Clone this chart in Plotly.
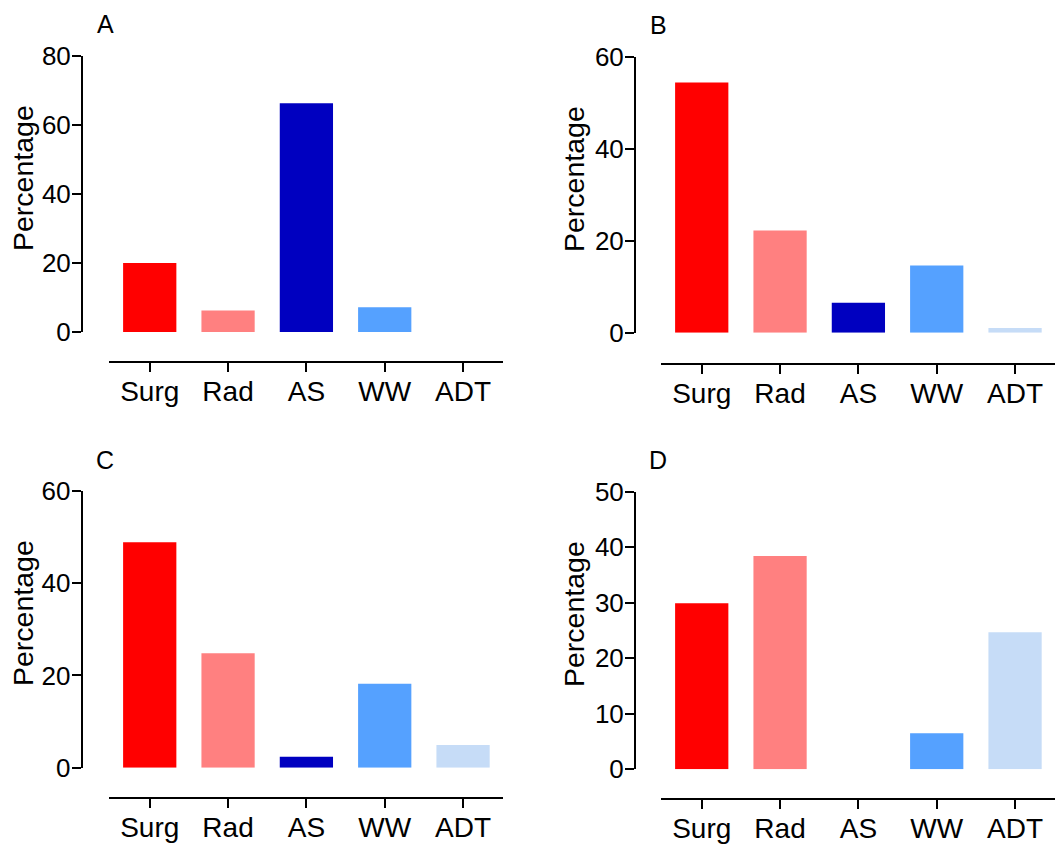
import plotly.graph_objects as go

categories = ["Surg", "Rad", "AS", "WW", "ADT"]
colors = ["#FF0000", "#FF8080", "#0000C0", "#55A1FF", "#C6DCF7"]

panel_a = [20.0, 6.2, 66.3, 7.2, 0.0]
panel_b = [54.4, 22.2, 6.5, 14.6, 1.0]
panel_c = [48.9, 24.8, 2.4, 18.2, 4.9]
panel_d = [29.9, 38.4, 0.0, 6.5, 24.7]

y_max = [80, 60, 60, 50]
y_dtick = [20, 20, 20, 10]
panel_labels = ["A", "B", "C", "D"]
values = [panel_a, panel_b, panel_c, panel_d]

W, H = 1060, 845
FONT = "Arial, Liberation Sans, sans-serif"

# pixel layout per panel: x domain (l, r), y domain (top, bottom), xaxis line y, yaxis line x
geom = [
    dict(xd=(109, 503), yd=(56, 332), xline=362, yline=82, lab=(105, 24), tit=(23, 178)),
    dict(xd=(661, 1055), yd=(56.7, 332.7), xline=364.3, yline=635, lab=(658, 25), tit=(574, 179)),
    dict(xd=(109, 503), yd=(491, 767.7), xline=798.3, yline=81.7, lab=(105, 460), tit=(23, 613)),
    dict(xd=(661, 1055), yd=(491.7, 769.3), xline=799, yline=635, lab=(658, 460), tit=(574, 614)),
]

fig = go.Figure()
annotations = []
layout = {}
for i in range(4):
    g = geom[i]
    n = "" if i == 0 else str(i + 1)
    xa = "x" + n
    ya = "y" + n
    fig.add_trace(go.Bar(
        x=categories, y=values[i], xaxis=xa, yaxis=ya,
        marker=dict(color=colors, line=dict(width=0)),
        width=0.68, showlegend=False, hoverinfo="x+y",
    ))
    layout["xaxis" + n] = dict(
        domain=[g["xd"][0] / W, g["xd"][1] / W],
        anchor="free", position=(H - g["xline"]) / H,
        type="category", range=[-0.52, 4.51],
        showline=True, linecolor="black", linewidth=2,
        ticks="outside", ticklen=9, tickwidth=2, tickcolor="black",
        ticklabelstandoff=-5,
        showgrid=False, zeroline=False, automargin=False,
        tickfont=dict(family=FONT, size=28, color="black"),
        fixedrange=True,
    )
    layout["yaxis" + n] = dict(
        domain=[(H - g["yd"][1]) / H, (H - g["yd"][0]) / H],
        anchor="free", position=g["yline"] / W,
        range=[0, y_max[i]], dtick=y_dtick[i], tick0=0,
        showline=True, linecolor="black", linewidth=2,
        ticks="outside", ticklen=9, tickwidth=2, tickcolor="black",
        ticklabelstandoff=-4,
        showgrid=False, zeroline=False, automargin=False,
        tickfont=dict(family=FONT, size=26, color="black"),
        fixedrange=True,
    )
    annotations.append(dict(
        text=panel_labels[i], xref="paper", yref="paper",
        x=g["lab"][0] / W, y=(H - g["lab"][1]) / H,
        xanchor="center", yanchor="middle", showarrow=False,
        font=dict(family=FONT, size=25, color="black"),
    ))
    annotations.append(dict(
        text="Percentage", xref="paper", yref="paper", textangle=-90,
        x=g["tit"][0] / W, y=(H - g["tit"][1]) / H,
        xanchor="center", yanchor="middle", showarrow=False,
        font=dict(family=FONT, size=28.5, color="black"),
    ))

fig.update_layout(
    width=W, height=H,
    margin=dict(l=0, r=0, t=0, b=0, pad=0, autoexpand=False),
    paper_bgcolor="white", plot_bgcolor="white",
    annotations=annotations,
    **layout,
)

fig.write_html("out.html")
